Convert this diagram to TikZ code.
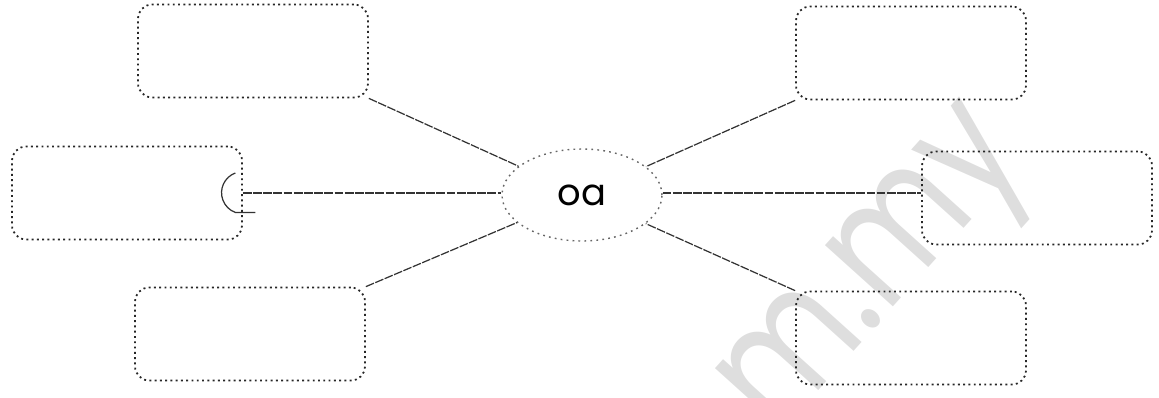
\documentclass[tikz,border=0pt]{standalone}
\usepackage{fontspec}
\setmainfont{Poppins}
\usepackage{tikz}
\usetikzlibrary{positioning,shapes.geometric,arrows.meta}

\begin{document}
\begin{tikzpicture}[
    x=0.02cm, y=-0.02cm,
    box/.style={draw=black!85, rounded corners=8pt, line width=1pt,
                dash pattern=on 1.1pt off 1.9pt, minimum width=4.6cm,
                minimum height=1.86cm},
    hub/.style={draw=black!60, ellipse, line width=0.8pt,
                dash pattern=on 1pt off 2.4pt, minimum width=3.2cm,
                minimum height=1.84cm, font=\fontsize{21}{21}\selectfont},
    link/.style={black!80, line width=0.7pt, dash pattern=on 5pt off 0.8pt},
    wmark/.style={font=\fontsize{95}{95}\selectfont, text=black!13}
]
\useasboundingbox (0,0) rectangle (1159,397);

% watermark behind everything
\node[wmark, rotate=48, xscale=0.8] (wm) at (884,280) {m.my};

% Centre
\node[hub] (oa) at (582,195) {\raisebox{-0.2cm}{oa}};

% Left column
\node[box] (tl) at (253,51) {};
\node[box] (ml) at (127,193) {};
\node[box] (bl) at (250,334) {};

% Right column
\node[box] (tr) at (911,53) {};
\node[box] (mr) at (1037,198) {};
\node[box] (br) at (911,338) {};

% Connectors
\draw[link] (tl.south east) -- (oa);
\draw[link] (ml.east) -- (ml.east -| oa.west);
\draw[link] (bl.north east) -- (oa);
\draw[link] (tr.south west) -- (oa);
\draw[link] ([yshift=0.04cm]oa.east) -- ([yshift=0.04cm]oa.east -| mr.west);
\draw[link] (br.north west) -- (oa);

% small hook at the left box
\draw[black!80, line width=0.7pt] ([xshift=-0.15cm,yshift=0.4cm]ml.east)
    arc[start angle=110, end angle=250, radius=0.42cm] -- ++(0.4cm,0);

\end{tikzpicture}
\end{document}
